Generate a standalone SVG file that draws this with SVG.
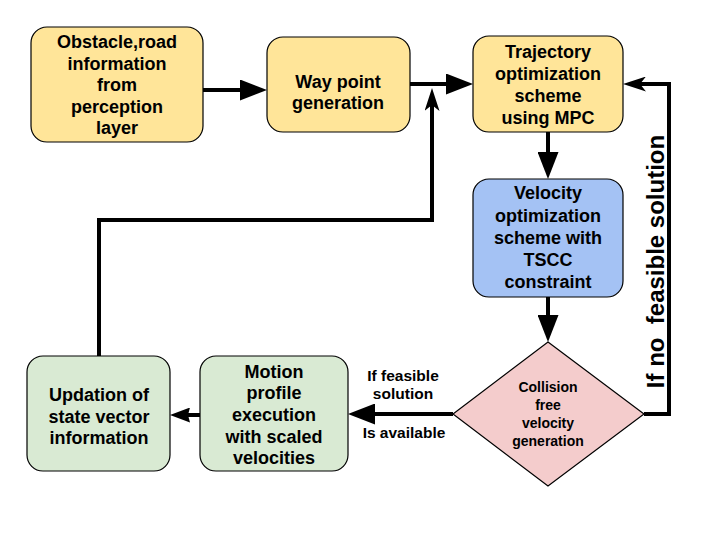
<svg xmlns="http://www.w3.org/2000/svg" width="720" height="540" viewBox="0 0 720 540">
<style>
.n{stroke:#000;stroke-width:1.2}
.y{fill:#ffe599}
.b{fill:#a4c2f4}
.g{fill:#d9ead3}
.p{fill:#f4cccc}
.t{font-family:"Liberation Sans",Arial,sans-serif;font-weight:bold;font-size:18px;text-anchor:middle;fill:#000}
.s{font-size:14px}
.l{font-size:15.5px}
.c{fill:none;stroke:#000;stroke-width:4}
</style>
<defs>
<marker id="a" markerUnits="userSpaceOnUse" markerWidth="27" markerHeight="21" refX="19" refY="10.5" orient="auto">
<path d="M0,0 L27,10.5 L0,21 z" fill="#000"/>
</marker>
<marker id="m" markerUnits="userSpaceOnUse" markerWidth="20" markerHeight="15" refX="12" refY="7.5" orient="auto">
<path d="M0,0 L20,7.5 L0,15 L2,7.5 z" fill="#000"/>
</marker>
<marker id="o" markerUnits="userSpaceOnUse" markerWidth="23" markerHeight="15" refX="15" refY="7.5" orient="auto">
<path d="M0,0 L23,7.5 L0,15 L6,7.5 z" fill="#000"/>
</marker>
</defs>
<rect width="720" height="540" fill="#fff"/>
<g id="connectors">
<path class="c" d="M203,90 H259" marker-end="url(#a)"/>
<path class="c" d="M410,84 H465" marker-end="url(#a)"/>
<path class="c" d="M548,132 V171" marker-end="url(#a)"/>
<path class="c" d="M548,297 V334" marker-end="url(#a)"/>
<path class="c" d="M453,414 H356" marker-end="url(#a)"/>
<path class="c" d="M200,415 H178" marker-end="url(#m)"/>
<path class="c" d="M99,356 V220 H432 V96" marker-end="url(#o)"/>
<path class="c" d="M644,414 H669 V84 H631" marker-end="url(#o)"/>
<text class="t l" x="403" y="381">If feasible</text>
<text class="t l" x="403" y="399">solution</text>
<text class="t l" x="404" y="438">Is available</text>
<text class="t" style="font-size:24px" transform="translate(664,261.5) rotate(-90)" xml:space="preserve">If no  feasible solution</text>
</g>
<g id="obstacle">
<rect class="n y" x="31" y="27" width="172" height="115" rx="16"/>
<text class="t" x="117" y="48">Obstacle,road</text>
<text class="t" x="117" y="69.5">information</text>
<text class="t" x="117" y="91">from</text>
<text class="t" x="117" y="112.5">perception</text>
<text class="t" x="117" y="134">layer</text>
</g>
<g id="waypoint">
<rect class="n y" x="267" y="37" width="143" height="95" rx="16"/>
<text class="t" x="338" y="88">Way point</text>
<text class="t" x="338" y="109">generation</text>
</g>
<g id="trajectory">
<rect class="n y" x="473" y="36" width="150" height="96" rx="16"/>
<text class="t" x="548" y="58">Trajectory</text>
<text class="t" x="548" y="80">optimization</text>
<text class="t" x="548" y="102">scheme</text>
<text class="t" x="548" y="124">using MPC</text>
</g>
<g id="velocity">
<rect class="n b" x="473" y="179" width="150" height="118" rx="16"/>
<text class="t" x="548" y="199">Velocity</text>
<text class="t" x="548" y="222">optimization</text>
<text class="t" x="548" y="244">scheme with</text>
<text class="t" x="548" y="266">TSCC</text>
<text class="t" x="548" y="288">constraint</text>
</g>
<g id="collision">
<polygon class="n p" points="548,342 644,414 548,486 453,414"/>
<text class="t s" x="548" y="392">Collision</text>
<text class="t s" x="548" y="410">free</text>
<text class="t s" x="548" y="428">velocity</text>
<text class="t s" x="548" y="446">generation</text>
</g>
<g id="motion">
<rect class="n g" x="200" y="356" width="148" height="115" rx="16"/>
<text class="t" x="274" y="378">Motion</text>
<text class="t" x="274" y="399">profile</text>
<text class="t" x="274" y="421">execution</text>
<text class="t" x="274" y="443">with scaled</text>
<text class="t" x="274" y="464">velocities</text>
</g>
<g id="updation">
<rect class="n g" x="27" y="356" width="143" height="115" rx="16"/>
<text class="t" x="99" y="401">Updation of</text>
<text class="t" x="99" y="423">state vector</text>
<text class="t" x="99" y="444">information</text>
</g>
</svg>
